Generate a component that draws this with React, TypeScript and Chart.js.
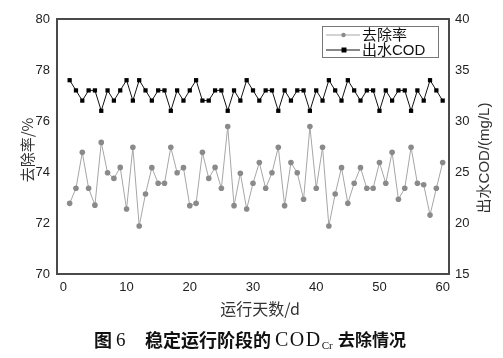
import React, { useEffect, useRef } from 'react';
import { Chart, registerables } from 'chart.js';

Chart.register(...registerables);

const days = [
  1, 2, 3, 4, 5, 6, 7, 8, 9, 10,
  11, 12, 13, 14, 15, 16, 17, 18, 19, 20,
  21, 22, 23, 24, 25, 26, 27, 28, 29, 30,
  31, 32, 33, 34, 35, 36, 37, 38, 39, 40,
  41, 42, 43, 44, 45, 46, 47, 48, 49, 50,
  51, 52, 53, 54, 55, 56, 57, 58, 59, 60,
];

const removalRate = [
  72.77, 73.36, 74.77, 73.36, 72.7, 75.16, 73.97, 73.75, 74.18, 72.55,
  74.97, 71.88, 73.14, 74.17, 73.56, 73.56, 74.97, 73.97, 74.17, 72.68,
  72.77, 74.77, 73.75, 74.18, 73.36, 75.78, 72.68, 73.95, 72.55, 73.56,
  74.37, 73.36, 73.97, 74.97, 72.68, 74.37, 73.97, 72.93, 75.78, 73.36,
  74.97, 71.88, 73.14, 74.17, 72.77, 73.56, 74.17, 73.36, 73.36, 74.37,
  73.56, 74.77, 72.93, 73.36, 74.97, 73.56, 73.5, 72.31, 73.36, 74.37,
];

const effluentCOD = [
  34, 33, 32, 33, 33, 31, 33, 32, 33, 34,
  32, 34, 33, 32, 33, 33, 31, 33, 32, 33,
  34, 32, 32, 33, 33, 31, 33, 32, 34, 33,
  32, 33, 33, 31, 33, 32, 33, 33, 31, 33,
  32, 34, 33, 32, 34, 33, 32, 33, 33, 31,
  33, 32, 33, 33, 31, 33, 32, 34, 33, 32,
];

const xTicks = [0, 10, 20, 30, 40, 50, 60];
const leftTicks = [70, 72, 74, 76, 78, 80];
const rightTicks = [15, 20, 25, 30, 35, 40];

const seriesLabels = ['去除率', '出水COD'];
const xTitle = '运行天数/d';
const leftTitle = '去除率/%';
const rightTitle = '出水COD/(mg/L)';
const captionParts = {
  fig: '图',
  num: '6',
  main: '稳定运行阶段的',
  cod: 'COD',
  sub: 'Cr',
  tail: '去除情况',
};

const SANS = '"Liberation Sans", "Noto Sans CJK SC", sans-serif';
const CJK = '"Noto Sans CJK SC", "Liberation Sans", sans-serif';
const SERIF = '"Liberation Serif", "DejaVu Serif", serif';

const decorPlugin = {
  id: 'decor',
  afterDraw(chart: any) {
    const { ctx, chartArea } = chart;
    const { left, right, top, bottom } = chartArea;
    ctx.save();

    // frame
    ctx.strokeStyle = '#4a4a4a';
    ctx.lineWidth = 2;
    ctx.strokeRect(left, top, right - left, bottom - top);

    // legend
    const lx = 322.5, ly = 26.5, lw = 116, lh = 31;
    ctx.fillStyle = '#ffffff';
    ctx.fillRect(lx, ly, lw, lh);
    ctx.strokeStyle = '#777';
    ctx.lineWidth = 1;
    ctx.strokeRect(lx, ly, lw, lh);
    const rows = [35, 50];
    chart.data.datasets.forEach((ds: any, i: number) => {
      const y = rows[i];
      ctx.strokeStyle = ds.borderColor;
      ctx.lineWidth = 1;
      ctx.beginPath();
      ctx.moveTo(326, y);
      ctx.lineTo(360, y);
      ctx.stroke();
      ctx.fillStyle = ds.pointBackgroundColor;
      if (ds.pointStyle === 'rect') {
        ctx.fillRect(341.5, y - 2.5, 5, 5);
      } else {
        ctx.beginPath();
        ctx.arc(343.5, y, 2.2, 0, Math.PI * 2);
        ctx.fill();
      }
      ctx.fillStyle = '#111';
      ctx.font = `15px ${SANS}`;
      ctx.textBaseline = 'middle';
      ctx.textAlign = 'left';
      ctx.fillText(ds.label, 362, y + 0.5);
    });

    // axis titles
    ctx.fillStyle = '#333';
    ctx.textAlign = 'center';
    ctx.textBaseline = 'middle';
    ctx.font = `16px ${CJK}`;
    ctx.fillText(xTitle, 260, 309);

    ctx.font = `15px ${CJK}`;
    ctx.save();
    ctx.translate(27, 150);
    ctx.rotate(-Math.PI / 2);
    ctx.fillText(leftTitle, 0, 0);
    ctx.restore();

    ctx.font = `15px ${SANS}`;
    ctx.save();
    ctx.translate(485, 158);
    ctx.rotate(-Math.PI / 2);
    ctx.fillText(rightTitle, 0, 0);
    ctx.restore();

    // caption
    ctx.fillStyle = '#111';
    ctx.textAlign = 'left';
    ctx.textBaseline = 'middle';
    const cy = 340;
    ctx.font = `bold 18px ${CJK}`;
    ctx.fillText(captionParts.fig, 94, cy);
    ctx.font = `19px ${SERIF}`;
    ctx.fillText(captionParts.num, 116, cy + 1);
    ctx.font = `bold 18px ${CJK}`;
    ctx.fillText(captionParts.main, 145, cy);
    ctx.font = `20px ${SERIF}`;
    const codX = 275;
    const letters = captionParts.cod.split('');
    let lxp = codX;
    letters.forEach((ch) => {
      ctx.fillText(ch, lxp, cy + 1);
      lxp += ctx.measureText(ch).width + 1.5;
    });
    ctx.font = `11px ${SERIF}`;
    ctx.fillText(captionParts.sub, lxp, cy + 6);
    lxp += ctx.measureText(captionParts.sub).width + 2;
    ctx.font = `bold 17px ${CJK}`;
    ctx.fillText(captionParts.tail, Math.max(lxp, 338), cy);

    ctx.restore();
  },
};

export default function App() {
  const canvasRef = useRef<HTMLCanvasElement | null>(null);

  useEffect(() => {
    const canvas = canvasRef.current;
    if (!canvas) return;
    const tickFont = { family: SANS, size: 13 };
    const chart = new Chart(canvas, {
      type: 'line',
      data: {
        datasets: [
          {
            label: seriesLabels[0],
            data: days.map((d, i) => ({ x: d, y: removalRate[i] })),
            yAxisID: 'y',
            borderColor: '#a6a6a6',
            borderWidth: 1,
            pointBackgroundColor: '#8a8a8a',
            pointBorderColor: '#8a8a8a',
            pointBorderWidth: 0,
            pointRadius: 2.8,
            pointStyle: 'circle',
            tension: 0,
            fill: false,
          } as any,
          {
            label: seriesLabels[1],
            data: days.map((d, i) => ({ x: d, y: effluentCOD[i] })),
            yAxisID: 'y1',
            borderColor: '#111111',
            borderWidth: 1,
            pointBackgroundColor: '#000000',
            pointBorderColor: '#000000',
            pointBorderWidth: 0,
            pointRadius: 3,
            pointStyle: 'rect',
            tension: 0,
            fill: false,
          } as any,
        ],
      },
      options: {
        animation: false,
        responsive: false,
        devicePixelRatio: 1,
        layout: { padding: { top: 19, left: 0, right: 0, bottom: 0 } },
        plugins: {
          legend: { display: false },
          tooltip: { enabled: false },
        },
        scales: {
          x: {
            type: 'linear',
            min: -1,
            max: 61,
            afterBuildTicks: (s: any) => {
              s.ticks = xTicks.map((v) => ({ value: v }));
            },
            afterFit: (s: any) => {
              s.height = 84;
            },
            grid: { display: false, drawTicks: false },
            border: { display: false },
            ticks: { padding: 6, color: '#222', font: tickFont, maxRotation: 0, autoSkip: false },
          },
          y: {
            type: 'linear',
            position: 'left',
            min: 70,
            max: 80,
            afterBuildTicks: (s: any) => {
              s.ticks = leftTicks.map((v) => ({ value: v }));
            },
            afterFit: (s: any) => {
              s.width = 57;
            },
            grid: { display: false, drawTicks: false },
            border: { display: false },
            ticks: { padding: 7, color: '#222', font: tickFont },
          },
          y1: {
            type: 'linear',
            position: 'right',
            min: 15,
            max: 40,
            afterBuildTicks: (s: any) => {
              s.ticks = rightTicks.map((v) => ({ value: v }));
            },
            afterFit: (s: any) => {
              s.width = 54;
            },
            grid: { display: false, drawTicks: false },
            border: { display: false },
            ticks: { padding: 6, color: '#222', font: tickFont },
          },
        },
      } as any,
      plugins: [decorPlugin],
    });
    return () => chart.destroy();
  }, []);

  return (
    <div style={{ position: 'fixed', left: 0, top: 0, width: 503, height: 358, background: '#fff' }}>
      <canvas ref={canvasRef} width={503} height={358} style={{ width: 503, height: 358 }} />
    </div>
  );
}
